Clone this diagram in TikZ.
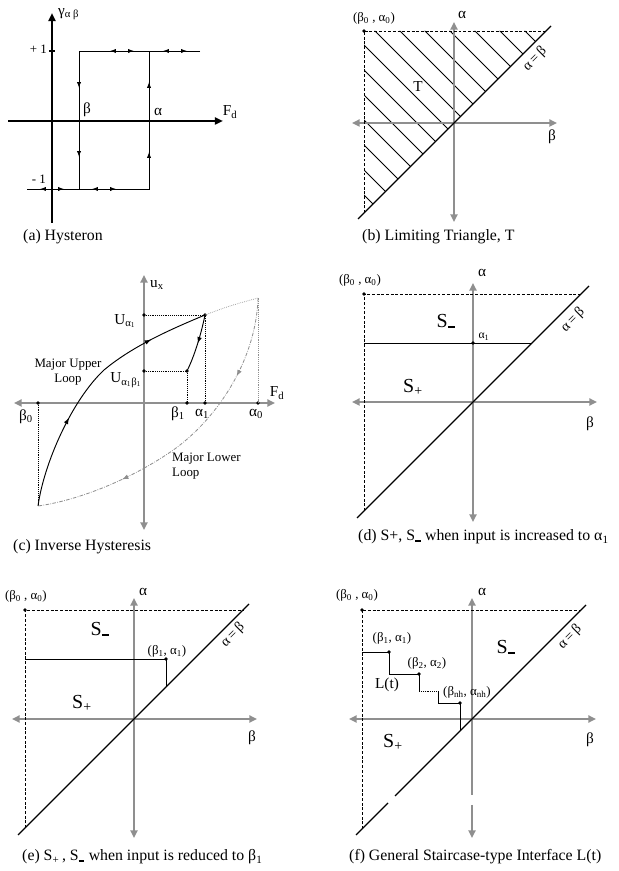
\documentclass[tikz,border=0pt]{standalone}
\usepackage{fontspec}
\setmainfont{Liberation Serif}
\usetikzlibrary{arrows.meta,decorations.markings}

\definecolor{axisgray}{gray}{0.56}
\newcommand{\low}[1]{\textsubscript{#1}}
\newcommand{\Sneg}{S\textsubscript{\rule[0.3ex]{0.5em}{0.16em}}}
\newcommand{\Spos}{S\textsubscript{+}}

\tikzset{
  >={Triangle[length=6.5pt,width=6pt]},
  grayaxis/.style={axisgray, line width=2.4pt},
  blackaxis/.style={line width=2.2pt, -{Triangle[length=7pt,width=6pt]}},
  thinline/.style={line width=0.8pt},
  helper/.style={line width=0.6pt, densely dotted},
  bound/.style={line width=0.6pt, dash pattern=on 2.5pt off 1.5pt},
  diag/.style={line width=1pt},
  blob/.style={circle, fill, inner sep=0pt, minimum size=3.2pt},
  lbl/.style={font=\fontsize{13}{15}\selectfont, inner sep=0pt},
  smalllbl/.style={font=\fontsize{11}{13}\selectfont, inner sep=0pt},
  region/.style={font=\fontsize{17}{19}\selectfont, inner sep=0pt},
  diaglbl/.style={font=\fontsize{12}{14}\selectfont, inner sep=0pt, rotate=45},
  caption/.style={font=\fontsize{13.5}{16}\selectfont, anchor=west, inner sep=0pt},
  flow/.style={-{Latex[length=5pt,width=3.6pt]}},
  twoway/.style={{Latex[length=5pt,width=3.6pt]}-{Latex[length=5pt,width=3.6pt]}},
  midarrow/.style={postaction={decorate, decoration={markings,
      mark=at position #1 with {\arrow{Latex[length=5.5pt,width=4pt]}}}}},
}

\begin{document}
\begin{tikzpicture}[x=0.03cm, y=0.03cm]
\useasboundingbox (0,0) rectangle (618,871);

% (a) hysteron
\begin{scope}[shift={(52,750)}]
  \draw[blackaxis] (-44,0) -- (171,0);
  \draw[blackaxis] (0,-102) -- (0,108);
  \draw[line width=2pt] (-3,70) -- (3,70);
  \draw[thinline] (148,70) -- (27,70) -- (27,-68);
  \draw[thinline] (-25,-68) -- (97,-68) -- (97,70);
  \foreach \x in {58,111} \draw[thinline, twoway] (\x,70) -- ++(24,0);
  \foreach \x in {-12,40} \draw[thinline, twoway] (\x,-68) -- ++(24,0);
  \draw[thinline, flow] (27,41) -- (27,33);
  \draw[thinline, flow] (27,-28) -- (27,-36);
  \draw[thinline, flow] (97,31) -- (97,39);
  \draw[thinline, flow] (97,-39) -- (97,-31);
  \node[lbl, anchor=west] (gab) at (6,107) {γ\low{α β}};
  \node[smalllbl, anchor=east] (plusone) at (-5,72) {+ 1};
  \node[smalllbl, anchor=east] (minusone) at (-6,-58) {- 1};
  \node[lbl] (betaA) at (35,11) {β};
  \node[lbl] (alphaA) at (106,9) {α};
  \node[lbl] (FdA) at (178,9) {F\low{d}};
  \node[caption] (capA) at (-29,-116) {(a) Hysteron};
\end{scope}

% (b) limiting triangle
\begin{scope}[shift={(454,748)}]
  \begin{scope}
    \clip (-90,92) -- (92,92) -- (-90,-90) -- cycle;
    \foreach \c in {-162,-137,...,163}
      \draw[thinline] (\c-100,100) -- (\c+100,-100);
  \end{scope}
  \draw[grayaxis, <->] (-102,0) -- (103,0);
  \draw[grayaxis, <->] (0,-99) -- (0,101);
  \draw[diag] (-96,-96) -- (97,97);
  \draw[bound] (-90,-90) -- (-90,92) -- (92,92);
  \node[blob] (cornerB) at (-90,92) {};
  \node[smalllbl] (cornerBlbl) at (-80,105) {(β\low{0} , α\low{0})};
  \node[lbl] (alphaB) at (8,108) {α};
  \node[lbl] (betaB) at (98,-14) {β};
  \node[lbl] (TB) at (-36,36) {T};
  \node[diaglbl] (eqB) at (81,64) {α\,=\,β};
  \node[caption] (capB) at (-92,-114) {(b) Limiting Triangle, T};
\end{scope}

% (c) inverse hysteresis
\begin{scope}[shift={(144,468)}]
  \draw[grayaxis, <->] (-130,0) -- (131,0);
  \draw[grayaxis, <->] (0,-127) -- (0,128);
  \node[blob] (Aone) at (61,88) {};
  \node[blob] (Bone) at (43,32) {};
  \node[blob] (UAone) at (0,88) {};
  \node[blob] (UBone) at (0,32) {};
  \node[blob] (bzero) at (-106,0) {};
  \node[blob] (bone) at (43,0) {};
  \node[blob] (aone) at (61,0) {};
  \node[blob] (azero) at (114,0) {};
  \coordinate (TR) at (114,105);
  \coordinate (BL) at (-106,-103);
  \draw[helper] (UAone.center) -- (Aone.center) -- (aone.center);
  \draw[helper] (UBone.center) -- (Bone.center) -- (bone.center);
  \draw[helper, axisgray] (azero.center) -- (TR);
  \draw[helper] (bzero.center) -- (BL);
  \draw[axisgray, line width=0.6pt, densely dotted] (Aone.center) .. controls (85,97) .. (TR);
  \draw[axisgray, line width=0.7pt, dash pattern=on 3pt off 1.2pt on 0.6pt off 1.2pt,
        midarrow=0.25, midarrow=0.73]
    (TR) .. controls (112,40) and (70,-20) .. (25,-50)
         .. controls (-20,-80) and (-70,-98) .. (BL);
  \draw[thinline, midarrow=0.35, midarrow=0.78]
    (BL) .. controls (-100,-60) and (-72,3) .. (-40,33)
         .. controls (-10,58) and (30,75) .. (Aone.center);
  \draw[thinline, midarrow=0.5] (Aone.center) .. controls (57,68) and (50,46) .. (Bone.center);
  \node[lbl, anchor=west] (uxC) at (6,118) {u\low{x}};
  \node[lbl] (FdC) at (133,10) {F\low{d}};
  \node[lbl] (UAlbl) at (-19,82) {U\low{α\low{1}}};
  \node[lbl] (UBlbl) at (-18,23) {U\low{α\low{1}β\low{1}}};
  \node[lbl] (bzerolbl) at (-118,-14) {β\low{0}};
  \node[lbl] (bonelbl) at (34,-11) {β\low{1}};
  \node[lbl] (aonelbl) at (58,-11) {α\low{1}};
  \node[lbl] (azerolbl) at (112,-11) {α\low{0}};
  \node[smalllbl, align=center] (upper) at (-76,31) {Major Upper\\Loop};
  \node[smalllbl, align=left, anchor=west] (lower) at (28,-63) {Major Lower\\Loop};
  \node[caption] (capC) at (-131,-144) {(c) Inverse Hysteresis};
\end{scope}

% (d) input increased
\begin{scope}[shift={(473,469)}]
  \draw[grayaxis, <->] (-121,0) -- (124,0);
  \draw[grayaxis, <->] (0,-120) -- (0,119);
  \draw[diag] (-116,-116) -- (116,116);
  \draw[bound] (-109,-109) -- (-109,108) -- (108,108);
  \draw[thinline] (-109,59) -- (59,59);
  \node[blob] (cornerD) at (-109,108) {};
  \node[blob] (aoneD) at (0,59) {};
  \node[smalllbl] (cornerDlbl) at (-113,122) {(β\low{0} , α\low{0})};
  \node[font=\fontsize{10}{12}\selectfont, inner sep=0pt] (aoneDlbl) at (11,65) {α\low{1}};
  \node[region] (SnegD) at (-27,80) {\Sneg};
  \node[region] (SposD) at (-60,15) {\Spos};
  \node[diaglbl] (eqD) at (100,82) {α\,=\,β};
  \node[lbl] (alphaD) at (9,129) {α};
  \node[lbl] (betaD) at (117,-22) {β};
  \node[caption] (capD) at (-115,-135) {(d) S+, \Sneg{} when input is increased to α\low{1}};
\end{scope}

% (e) input reduced
\begin{scope}[shift={(134,152)}]
  \draw[grayaxis, <->] (-122,0) -- (123,0);
  \draw[grayaxis, <->] (0,-119) -- (0,121);
  \draw[diag] (-116,-116) -- (115,115);
  \draw[bound] (-109,-109) -- (-109,109) -- (109,109);
  \node[blob] (cornerE) at (-109,109) {};
  \node[blob] (pointE) at (32,60) {};
  \draw[thinline] (-109,60) -- (pointE.center) -- (32,32);
  \node[smalllbl, anchor=east] (cornerElbl) at (-87,123) {(β\low{0} , α\low{0})};
  \node[smalllbl] (pointElbl) at (33,68) {(β\low{1}, α\low{1})};
  \node[region] (SnegE) at (-34,89) {\Sneg};
  \node[region] (SposE) at (-52,16) {\Spos};
  \node[diaglbl] (eqE) at (99,84) {α\,=\,β};
  \node[lbl] (alphaE) at (9,127) {α};
  \node[lbl] (betaE) at (118,-19) {β};
  \node[caption] (capE) at (-112,-138) {(e) \Spos\,, \Sneg{} when input is reduced to β\low{1}};
\end{scope}

% (f) staircase interface
\begin{scope}[shift={(472,152)}]
  \draw[grayaxis, <->] (-123,0) -- (124,0);
  \draw[grayaxis, ->] (0,-76) -- (0,121);
  \draw[grayaxis, ->] (0,-86) -- (0,-119);
  \draw[diag] (-116,-116) -- (-84,-84);
  \draw[diag] (-77,-77) -- (114,114);
  \draw[bound] (-110,-110) -- (-110,109) -- (109,109);
  \node[blob] (cornerF) at (-110,109) {};
  \node[blob] (stepone) at (-83,67) {};
  \node[blob] (steptwo) at (-53,45) {};
  \node[blob] (stepn) at (-12,16) {};
  \draw[thinline] (-110,67) -- (stepone.center) -- (-83,45) -- (steptwo.center) -- (-53,28);
  \draw[helper] (-53,28) -- (-34,28);
  \draw[thinline] (-34,28) -- (-34,16) -- (stepn.center) -- (-12,-12);
  \node[smalllbl] (cornerFlbl) at (-115,124) {(β\low{0} , α\low{0})};
  \node[smalllbl] (steponelbl) at (-80,81) {(β\low{1}, α\low{1})};
  \node[smalllbl] (steptwolbl) at (-45,56) {(β\low{2}, α\low{2})};
  \node[lbl] (Lt) at (-85,34) {L(t)};
  \node[smalllbl] (stepnlbl) at (-5,27) {(β\low{nh}, α\low{nh})};
  \node[region] (SnegF) at (34,71) {\Sneg};
  \node[region] (SposF) at (-79,-23) {\Spos};
  \node[diaglbl] (eqF) at (98,82) {α\,=\,β};
  \node[lbl] (alphaF) at (10,127) {α};
  \node[lbl] (betaF) at (118,-21) {β};
  \node[caption] (capF) at (-123,-138) {(f) General Staircase-type Interface L(t)};
\end{scope}
\end{tikzpicture}
\end{document}
